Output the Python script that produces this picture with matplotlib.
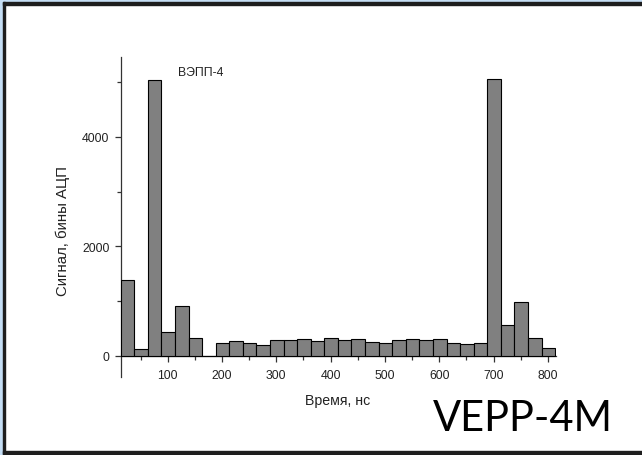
import numpy as np
import matplotlib.pyplot as plt
from matplotlib.patches import Rectangle

# histogram of signal vs time, 25 ns bins starting at ~13 ns
bin_start = 13.4
bin_width = 25
counts = [1390, 116, 5040, 428, 900, 324, 0, 226,
          275, 232, 202, 294, 294, 305, 262, 317,
          293, 305, 244, 226, 280, 299, 287, 299,
          232, 207, 226, 5060, 567, 976, 317, 140]

xticks = [100, 200, 300, 400, 500, 600, 700, 800]
yticks = [0, 2000, 4000]

plt.rcParams['font.family'] = ['Liberation Sans', 'DejaVu Sans']

fig = plt.figure(figsize=(6.42, 4.56), dpi=100)
W, H = 642, 456

# window frame
fig.patches.append(Rectangle((0, 1 - 3 / H), 1, 3 / H, transform=fig.transFigure,
                             color='#c5def5', zorder=0))
fig.patches.append(Rectangle((0, 0), 3 / W, 1, transform=fig.transFigure,
                             color='#c5def5', zorder=0))
fig.patches.append(Rectangle((3 / W, 1 - 5.5 / H), 1, 2.5 / H, transform=fig.transFigure,
                             color='#1e1e1e', zorder=1))
fig.patches.append(Rectangle((3 / W, 0), 2.5 / W, 1 - 3 / H, transform=fig.transFigure,
                             color='#1e1e1e', zorder=1))
fig.patches.append(Rectangle((3 / W, 1.2 / H), 1, 2.5 / H, transform=fig.transFigure,
                             color='#1e1e1e', zorder=1))

ax = fig.add_axes([120.7 / W, 1 - 378 / H, 435.3 / W, 320 / H])
ax.set_facecolor('none')

left = bin_start + bin_width * np.arange(len(counts))
ax.bar(left, counts, width=bin_width, align='edge', color='#808080',
       edgecolor='black', linewidth=0.8, zorder=3)

ax.set_xlim(13.4, 815)
ax.set_ylim(-390, 5460)

ax.spines['top'].set_visible(False)
ax.spines['right'].set_visible(False)
ax.spines['bottom'].set_position(('data', 0))
for s in ('left', 'bottom'):
    ax.spines[s].set_linewidth(0.9)
    ax.spines[s].set_color('#333333')

ax.set_xticks(xticks)
ax.set_xticks([50, 150, 250, 350, 450, 550, 650, 750], minor=True)
ax.set_yticks(yticks)
ax.set_yticks([1000, 3000, 5000], minor=True)
ax.tick_params(axis='both', which='major', labelsize=8.8, length=4.5, width=0.9,
               color='#333333', labelcolor='#222222')
ax.tick_params(axis='both', which='minor', length=3, width=0.9, color='#333333')
ax.tick_params(axis='y', which='major', pad=3.5)
ax.tick_params(axis='x', which='major', pad=5)

ax.text(119, 5180, 'ВЭПП-4', fontsize=8.8, va='center', ha='left', color='#222222')

fig.text(337.5 / W, 1 - 401 / H, 'Время, нс', fontsize=10.2, ha='center', va='center',
         color='#222222')
fig.text(62.5 / W, 1 - 231 / H, 'Сигнал, бины АЦП', fontsize=10.8, ha='center', va='center',
         rotation=90, color='#222222')

fig.text(523 / W, 1 - 419 / H, 'VEPP-4M', fontsize=30, ha='center', va='center',
         family=['Lato', 'DejaVu Sans'], color='black')

fig.savefig('out.png', dpi=100)
